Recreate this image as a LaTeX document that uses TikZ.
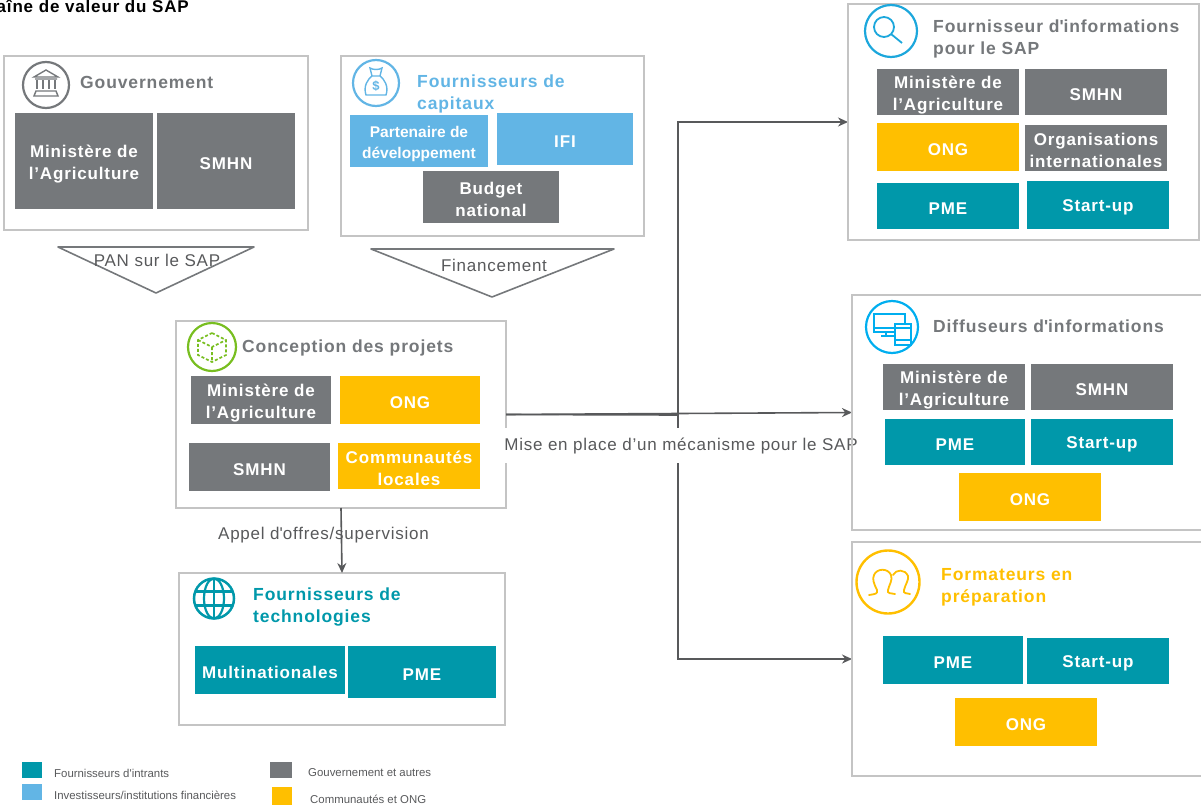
\documentclass[tikz,border=0pt]{standalone}
\usepackage{fontspec}
\setmainfont{Liberation Sans}
\newfontfamily\trackfont[LetterSpace=5]{Liberation Sans}
\newfontfamily\captfont[LetterSpace=4.5]{Liberation Sans}
\usepackage{tikz}
\usetikzlibrary{positioning,arrows.meta,backgrounds}

\definecolor{tealc}{RGB}{0,152,170}
\definecolor{bluec}{RGB}{98,181,229}
\definecolor{grayc}{RGB}{117,120,123}
\definecolor{yellowc}{RGB}{255,191,0}
\definecolor{framec}{RGB}{196,196,196}
\definecolor{linec}{RGB}{88,89,91}
\definecolor{greenc}{RGB}{120,190,32}
\definecolor{skyc}{RGB}{0,174,239}
\definecolor{lensc}{RGB}{28,167,220}

\newcommand{\lowtop}{\rule{0pt}{18pt}}

\tikzset{
  wh/.style 2 args={minimum width=#1pt,minimum height=#2pt},
  panel/.style={draw=framec,line width=2pt,inner sep=0pt,outer sep=0pt},
  tile/.style={inner sep=0pt,outer sep=0pt,text=white,align=center,execute at begin node={\rule{0pt}{17pt}},font=\trackfont\bfseries\fontsize{17}{22}\selectfont},
  graytile/.style={tile,fill=grayc},
  tealtile/.style={tile,fill=tealc},
  bluetile/.style={tile,fill=bluec},
  yellowtile/.style={tile,fill=yellowc},
  heading/.style={anchor=west,inner sep=0pt,align=left,font=\trackfont\bfseries\fontsize{17.5}{22}\selectfont},
  caption/.style={inner sep=0pt,text=linec,font=\captfont\fontsize{17}{20}\selectfont},
  legendtext/.style={inner sep=0pt,text=linec,font=\fontsize{11.4}{13}\selectfont},
  swatch/.style={inner sep=0pt,outer sep=0pt},
  iconring/.style={circle,draw=#1,line width=2.2pt,inner sep=0pt},
  flow/.style={-{Stealth[length=10pt,width=9pt]},draw=linec,line width=1.6pt},
  wedge/.style={draw=grayc,line width=1.6pt,line join=round},
}

\begin{document}
\begin{tikzpicture}[x=1pt,y=-1pt]
  \useasboundingbox (0,0) rectangle (1201,808);

  \begin{scope}
    \clip (0,0) rectangle (1201,808);
    \node[anchor=east,inner sep=0pt,font=\trackfont\bfseries\fontsize{17}{18}\selectfont] (title) at (189,6) {Chaîne de valeur du SAP};
  \end{scope}

  % Gouvernement
  \node[panel,wh={304}{174}] (gov) at (156,143) {};
  \node[iconring=grayc,minimum size=46pt] (govicon) at (46,85) {};
  \begin{scope}[shift={(govicon.center)},draw=grayc,line width=1.4pt]
    \draw (-12,-8) -- (0,-15) -- (12,-8) -- cycle;
    \foreach \x in {-9,-3,3,9} \draw (\x,-5) -- (\x,4);
    \draw (-11,-6) -- (11,-6) (-10,6) -- (10,6) -- (12,11) -- (-12,11) -- cycle;
  \end{scope}
  \node[heading,text=grayc] (govtitle) at (80,82) {Gouvernement};
  \node[graytile,wh={138}{96}] (govmin) at (84,161) {\lowtop Ministère de\\l’Agriculture};
  \node[graytile,wh={138}{96},right=4pt of govmin] (govsmhn) {SMHN};

  % Fournisseurs de capitaux
  \node[panel,wh={303}{180}] (capital) at (492.5,146) {};
  \node[iconring=bluec,minimum size=46pt] (capicon) at (376,83) {};
  \begin{scope}[shift={(capicon.center)},draw=bluec,line width=1.4pt]
    \draw (-10,12) -- (10,12) .. controls (13,3) and (8,-4) .. (4,-7) -- (-4,-7) .. controls (-8,-4) and (-13,3) .. (-10,12) -- cycle;
    \draw (-4,-7) -- (-6,-15) .. controls (-3,-13) and (3,-13) .. (6,-15) -- (4,-7);
    \node[inner sep=0pt,text=bluec,font=\bfseries\fontsize{13}{13}\selectfont] (capsign) at (0,3) {\$};
  \end{scope}
  \node[heading,text=bluec] (captitle) at (417,94) {Fournisseurs de\\capitaux};
  \node[bluetile,wh={138}{52},font=\bfseries\fontsize{15.5}{21}\selectfont] (cappart) at (419,141) {\lowtop Partenaire de\\développement};
  \node[bluetile,wh={136}{52}] (capifi) at (565,139) {IFI};
  \node[graytile,wh={136}{52}] (capbudget) at (491,197) {\lowtop Budget\\national};

  % triangles
  \draw[wedge] (58,247) -- (254,247) -- (156,293) -- cycle;
  \node[caption] (pan) at (157,260) {PAN sur le SAP};
  \draw[wedge] (371,249) -- (614,249) -- (492,297) -- cycle;
  \node[caption] (finance) at (494,265) {Financement};

  % Conception des projets
  \begin{pgfonlayer}{background}
    \node[panel,wh={330}{187}] (concept) at (341,414.5) {};
  \end{pgfonlayer}
  \node[iconring=greenc,minimum size=48pt] (concicon) at (212,347) {};
  \begin{scope}[shift={(concicon.center)},draw=greenc,line width=1.6pt,dash pattern=on 3pt off 2pt]
    \draw (0,-14) -- (14,-7) -- (14,8) -- (0,15) -- (-14,8) -- (-14,-7) -- cycle;
    \draw (-14,-7) -- (0,0) -- (14,-7) (0,0) -- (0,15);
  \end{scope}
  \node[heading,text=grayc] (conctitle) at (242,348) {Conception des projets};
  \node[graytile,wh={140}{48}] (concmin) at (261,400) {\lowtop Ministère de\\l’Agriculture};
  \node[yellowtile,wh={140}{48},right=9pt of concmin] (concong) {ONG};
  \node[graytile,wh={141}{48}] (concsmhn) at (259.5,467) {SMHN};
  \node[yellowtile,wh={142}{46}] (conccomm) at (409,466) {\lowtop Communautés\\locales};

  % Fournisseurs de technologies
  \node[panel,wh={326}{152}] (tech) at (342,649) {};
  \node[circle,draw=tealc,line width=2.5pt,minimum size=40pt,inner sep=0pt] (techicon) at (214,598.5) {};
  \begin{scope}[shift={(techicon.center)},draw=tealc,line width=2.2pt]
    \draw (0,-20) -- (0,20);
    \draw (0,0) ellipse (10pt and 20pt);
    \draw (-18,-7) -- (18,-7) (-18,7) -- (18,7);
  \end{scope}
  \node[heading,text=tealc] (techtitle) at (253,607) {Fournisseurs de\\technologies};
  \node[tealtile,wh={150}{48}] (techmulti) at (270,670) {Multinationales};
  \node[tealtile,wh={148}{52}] (techpme) at (422,672) {PME};

  % Fournisseur d'informations
  \node[panel,wh={351}{236}] (supplier) at (1023.5,122) {};
  \node[iconring=lensc,minimum size=52pt] (supicon) at (891,31) {};
  \begin{scope}[shift={(supicon.center)},draw=lensc,line width=1.8pt]
    \draw (-7,-4) circle (10pt);
    \draw (0,3) -- (11,12);
  \end{scope}
  \node[heading,text=grayc] (suptitle) at (933,39) {Fournisseur d\textquotesingle informations\\pour le SAP};
  \node[graytile,wh={142}{46}] (supmin) at (948,92) {\lowtop Ministère de\\l’Agriculture};
  \node[graytile,wh={142}{46},right=6pt of supmin] (supsmhn) {SMHN};
  \node[yellowtile,wh={142}{48}] (supong) at (948,147) {ONG};
  \node[graytile,wh={142}{46}] (suporg) at (1096,148) {\lowtop Organisations\\internationales};
  \node[tealtile,wh={142}{46}] (suppme) at (948,206) {PME};
  \node[tealtile,wh={142}{48}] (supstart) at (1098,205) {Start-up};

  % Diffuseurs d'informations
  \node[panel,wh={350}{235}] (diffuser) at (1027,412.5) {};
  \node[iconring=skyc,minimum size=52pt] (difficon) at (892,327) {};
  \begin{scope}[shift={(difficon.center)},draw=skyc,line width=1.1pt]
    \draw (-18,-13) rectangle (13,5);
    \draw (-18,1) -- (13,1) (-6,5) -- (-6,9) (-11,9) -- (3,9);
    \draw[fill=white] (3,-3) rectangle (19,18);
    \draw (3,1) -- (19,1) (3,13) -- (19,13);
  \end{scope}
  \node[heading,text=grayc] (difftitle) at (933,326) {Diffuseurs d\textquotesingle informations};
  \node[graytile,wh={142}{46}] (diffmin) at (954,387) {\lowtop Ministère de\\l’Agriculture};
  \node[graytile,wh={142}{46},right=6pt of diffmin] (diffsmhn) {SMHN};
  \node[tealtile,wh={140}{46}] (diffpme) at (955,442) {PME};
  \node[tealtile,wh={142}{46},right=6pt of diffpme] (diffstart) {Start-up};
  \node[yellowtile,wh={142}{48}] (diffong) at (1030,497) {ONG};

  % Formateurs en préparation
  \node[panel,wh={350}{234}] (trainer) at (1027,659) {};
  \node[circle,draw=yellowc,line width=2.4pt,minimum size=63pt,inner sep=0pt] (trainicon) at (888,582) {};
  \begin{scope}[shift={(trainicon.center)},draw=yellowc,line width=1.8pt,line cap=round]
    \draw (-19,13) .. controls (-13,12) and (-10,12) .. (-11,8) .. controls (-14,2) and (-16,-3) .. (-14,-7) .. controls (-11,-14) and (0,-14) .. (3,-7) .. controls (5,-2) and (1,3) .. (0,8) .. controls (-1,12) and (3,11) .. (7,12);
    \draw (5,-7) .. controls (8,-13) and (17,-13) .. (20,-6) .. controls (21,-2) and (17,3) .. (16,8) .. controls (15,12) and (19,11) .. (22,12);
  \end{scope}
  \node[heading,text=yellowc] (traintitle) at (941,587) {Formateurs en\\préparation};
  \node[tealtile,wh={140}{48}] (trainpme) at (953,660) {PME};
  \node[tealtile,wh={142}{46}] (trainstart) at (1098,661) {Start-up};
  \node[yellowtile,wh={142}{48}] (trainong) at (1026,722) {ONG};

  % connectors
  \coordinate (branch) at (678,415);
  \begin{pgfonlayer}{background}
    \draw[flow] (concept.east) -- (diffuser.west);
    \draw[draw=linec,line width=1.6pt] (concept.east) -- (branch);
    \draw[flow] (branch) |- (supplier.west);
    \draw[flow] (branch) |- (trainer.west);
    \node[caption,fill=white,inner xsep=0pt,inner ysep=9pt] (mise) at (681,445.5) {Mise en place d’un mécanisme pour le SAP};
  \end{pgfonlayer}
  \draw[flow] (concept.south) -- (tech.north);
  \node[caption] (appel) at (323.5,535) {Appel d\textquotesingle offres/supervision};

  % legend
  \node[swatch,fill=tealc,wh={20}{16}] (legteal) at (32,770) {};
  \node[legendtext,right=12pt of legteal,yshift=-3pt] (legtealtext) {Fournisseurs d\textquotesingle intrants};
  \node[swatch,fill=bluec,wh={20}{16}] (legblue) at (32,792) {};
  \node[legendtext,right=12pt of legblue,yshift=-3pt] (legbluetext) {Investisseurs/institutions financières};
  \node[swatch,fill=grayc,wh={22}{16}] (leggray) at (281,770) {};
  \node[legendtext,right=16pt of leggray,yshift=-3pt] (leggraytext) {Gouvernement et autres};
  \node[swatch,fill=yellowc,wh={20}{18}] (legyellow) at (282,796) {};
  \node[legendtext,right=18pt of legyellow,yshift=-3pt] (legyellowtext) {Communautés et ONG};
\end{tikzpicture}
\end{document}
